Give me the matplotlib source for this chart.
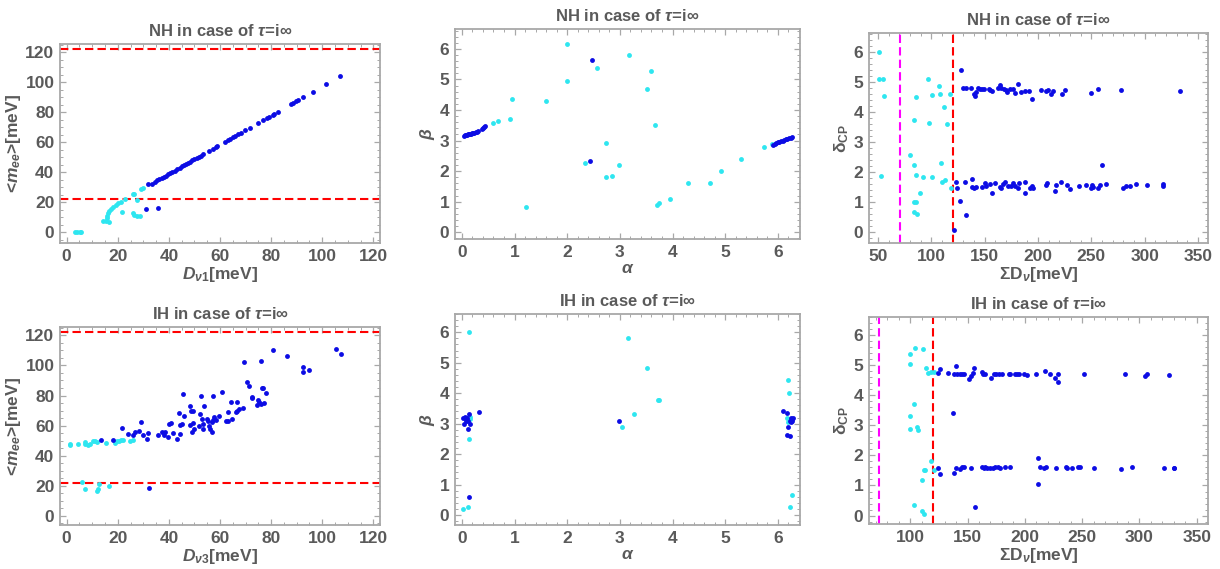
import matplotlib as mpl
mpl.use('Agg')
import matplotlib.pyplot as plt
from matplotlib.ticker import MultipleLocator

mpl.rcParams['font.family'] = 'Liberation Sans'
mpl.rcParams['font.weight'] = 'bold'
mpl.rcParams['mathtext.fontset'] = 'custom'
mpl.rcParams['mathtext.rm'] = 'Liberation Sans:bold'
mpl.rcParams['mathtext.it'] = 'Liberation Sans:bold:italic'
mpl.rcParams['mathtext.bf'] = 'Liberation Sans:bold'

textgray = '#5a5a5a'
framegray = '#a8a8a8'
blue = '#0c0ce4'
cyan = '#2ee6f0'

# ---------------- NH: <m_ee> vs D_v1 ----------------
nh_m_cyan_x = [3.3, 4.2, 5.2, 5.6, 14.3, 15.4, 15.9, 15.6, 16.2, 16.7, 17.3, 18.3, 19.3, 20.2,
               21.1, 21.5, 23.0, 25.8, 26.3, 25.8, 26.3, 27.4, 28.7, 27.6, 28.9, 30.0, 16.4]
nh_m_cyan_y = [0.0, 0.0, 0.0, 0.0, 7.7, 7.7, 9.5, 10.6, 12.8, 14.4, 15.5, 17.2, 18.3, 19.4,
               20.1, 13.3, 22.3, 25.4, 25.8, 12.8, 11.7, 11.0, 10.6, 21.7, 29.0, 29.8, 6.9]
nh_m_blue_x = [30.9, 35.9, 31.8, 33.2, 34.6, 35.4, 36.3, 37.2, 38.0, 38.8, 39.6, 40.5, 41.3,
               42.2, 43.0, 44.3, 45.1, 46.0, 46.8, 47.6, 48.4, 49.2, 50.0, 50.9, 51.7, 52.6,
               53.5, 55.8, 57.2, 58.3, 59.0, 62.0, 63.1, 64.0, 65.0, 66.0, 67.2, 68.1, 69.9,
               71.8, 74.9, 76.8, 78.2, 79.0, 80.6, 81.2, 82.7, 87.6, 88.6, 89.7, 90.6, 92.5,
               96.2, 101.4, 106.9]
nh_m_blue_y = [15.5, 16.1, 32.0, 32.5, 33.6, 34.6, 35.4, 36.2, 37.0, 37.8, 38.6, 39.4, 40.2,
               41.0, 41.9, 43.2, 44.0, 44.8, 45.6, 46.4, 47.2, 48.0, 48.7, 49.6, 50.4, 51.2,
               52.0, 54.4, 55.8, 56.7, 57.5, 60.4, 61.4, 62.3, 63.3, 64.2, 65.4, 66.3, 68.0,
               69.8, 72.9, 74.7, 76.0, 76.9, 78.5, 79.0, 80.5, 85.2, 86.2, 87.2, 88.1, 90.0,
               93.5, 98.6, 104.0]

# ---------------- NH: beta vs alpha ----------------
nh_ab_cyan_x = [0.60, 0.68, 0.92, 0.95, 1.21, 1.60, 1.99, 2.00, 2.34, 2.56, 2.73, 2.73, 2.86,
                2.98, 3.17, 3.52, 3.60, 3.67, 3.70, 3.75, 3.95, 4.29, 4.71, 4.92, 5.30, 5.74, 5.88]
nh_ab_cyan_y = [3.57, 3.65, 3.70, 4.35, 0.84, 4.28, 4.95, 6.15, 2.26, 5.37, 2.91, 1.80, 1.85,
                2.20, 5.80, 4.68, 5.26, 3.51, 0.89, 0.95, 1.09, 1.60, 1.60, 2.00, 2.41, 2.78, 2.88]
nh_ab_blue_x = [0.04, 0.06, 0.08, 0.10, 0.12, 0.14, 0.16, 0.18, 0.20, 0.22, 0.24, 0.26, 0.28,
                0.30, 0.38, 0.40, 0.42, 0.44, 2.48, 2.43, 5.91, 5.94, 5.97, 6.00, 6.03, 6.06,
                6.09, 6.12, 6.15, 6.18, 6.21, 6.24, 6.26]
nh_ab_blue_y = [3.16, 3.17, 3.18, 3.19, 3.20, 3.21, 3.22, 3.23, 3.24, 3.25, 3.26, 3.27, 3.28,
                3.30, 3.38, 3.41, 3.44, 3.48, 5.62, 2.33, 2.87, 2.90, 2.92, 2.94, 2.96, 2.98,
                3.00, 3.02, 3.04, 3.06, 3.08, 3.10, 3.12]

# ---------------- NH: delta_CP vs sum ----------------
nh_d_cyan_x = [51.0, 50.6, 54.7, 55.6, 53.1, 83.4, 80.3, 83.8, 85.3, 83.8, 86.0, 83.8, 86.9,
               85.9, 89.7, 92.5, 96.9, 97.5, 100.6, 100.6, 106.9, 107.8, 109.4, 110.3, 111.6,
               113.1, 115.0, 117.2, 118.8]
nh_d_cyan_y = [6.02, 5.10, 5.12, 4.54, 1.86, 3.74, 2.58, 2.24, 1.91, 1.01, 1.01, 0.69, 0.62,
               4.50, 1.30, 1.83, 5.12, 3.63, 1.83, 4.58, 4.86, 4.62, 2.32, 1.66, 4.17, 1.74,
               3.60, 4.61, 1.47]
nh_d_blue_x = [121.3, 128.1, 123.4, 124.4, 126.6, 131.3, 132.8, 259.7,
               129.7, 132.8, 136.9, 139.7, 140.6, 142.2, 143.8, 145.3, 147.8, 149.1, 154.0,
               155.3, 157.2, 162.5, 164.0, 165.6, 167.8, 169.7, 171.0, 173.5, 176.6, 178.2,
               181.3, 184.4, 188.1, 191.9, 194.4, 202.5, 207.8, 209.4, 211.9, 214.1, 222.8,
               225.0, 250.0, 256.2, 277.5, 333.4,
               138.4, 138.4, 140.0, 142.2, 147.5, 150.0, 151.6, 154.7, 157.2, 159.4, 164.1,
               165.6, 167.2, 168.8, 171.9, 175.0, 176.6, 178.1, 181.3, 182.2, 187.5, 188.1,
               192.8, 194.4, 195.3, 207.8, 208.8, 215.6, 217.2, 221.3, 226.9, 230.0, 238.8,
               244.7, 249.4, 250.3, 251.3, 256.6, 258.1, 263.4, 279.9, 282.4, 286.1, 292.2,
               302.2, 317.2, 317.2]
nh_d_blue_y = [0.06, 5.41, 1.69, 1.47, 1.04, 1.69, 0.56, 2.24,
               4.80, 4.80, 4.80, 4.61, 4.54, 4.68, 4.80, 4.77, 4.77, 4.79, 4.78,
               4.74, 4.69, 4.82, 4.91, 4.80, 4.77, 4.74, 4.68, 4.77, 4.76, 4.63,
               4.93, 4.68, 4.70, 4.69, 4.43, 4.74, 4.70, 4.74, 4.61, 4.72, 4.60,
               4.74, 4.63, 4.77, 4.74, 4.71,
               1.77, 1.52, 1.47, 1.50, 1.50, 1.63, 1.54, 1.61, 1.32, 1.63, 1.52,
               1.47, 1.60, 1.66, 1.54, 1.54, 1.63, 1.54, 1.47, 1.63, 1.32, 1.66,
               1.47, 1.54, 1.47, 1.59, 1.63, 1.36, 1.58, 1.66, 1.58, 1.43, 1.54,
               1.56, 1.49, 1.57, 1.51, 1.49, 1.57, 1.60, 1.49, 1.54, 1.54, 1.60,
               1.59, 1.60, 1.54]

# ---------------- IH: <m_ee> vs D_v3 ----------------
ih_m_cyan_x = [1.3, 1.3, 4.6, 7.2, 7.2, 8.5, 9.1, 10.2, 11.1, 11.7, 15.3, 18.9, 19.6, 20.5,
               21.1, 21.9, 24.8, 25.8, 5.9, 7.2, 11.7, 12.4, 12.8, 16.7]
ih_m_cyan_y = [47.9, 46.8, 47.9, 49.0, 47.5, 47.2, 47.9, 49.4, 49.4, 48.9, 48.5, 48.5, 49.4,
               49.9, 50.1, 50.1, 49.4, 50.1, 22.5, 17.6, 16.3, 17.6, 21.0, 19.9]
ih_m_blue_x = [13.3, 18.3, 21.8, 24.1, 25.8, 26.7, 28.4, 29.1, 29.7, 31.3, 32.0, 35.9, 37.4,
               38.1, 38.5, 39.5, 40.0, 40.7, 41.7, 43.3, 43.9, 44.3, 45.0, 45.4, 45.9, 44.2,
               48.3, 48.3, 48.9, 48.5, 49.3, 49.3, 49.8, 51.9, 52.2, 52.4, 52.8, 53.2, 53.5,
               53.7, 55.0, 55.4, 55.8, 56.0, 56.7, 57.0, 57.1, 57.4, 57.8, 58.5, 59.6, 60.6,
               62.2, 63.3, 63.0, 64.2, 64.8, 66.1, 66.8, 66.8, 67.6, 68.9, 69.5, 70.4, 71.3,
               72.4, 72.7, 74.3, 75.0, 75.4, 75.9, 76.0, 76.3, 77.0, 77.9, 77.2, 80.6, 86.1,
               92.3, 92.6, 95.0, 105.4, 107.2, 32.2]
ih_m_blue_y = [50.7, 50.7, 58.2, 54.5, 53.8, 55.6, 56.3, 62.2, 54.0, 51.2, 54.9, 54.0, 55.6,
               54.0, 55.6, 52.3, 61.1, 61.8, 54.9, 51.0, 68.4, 54.5, 61.0, 81.0, 66.6, 60.6,
               73.2, 60.6, 55.6, 69.9, 69.5, 61.5, 57.4, 60.0, 67.9, 79.4, 64.2, 61.2, 57.8,
               72.8, 64.4, 63.0, 60.0, 57.8, 55.6, 62.2, 79.9, 64.0, 65.5, 64.0, 66.6, 82.5,
               63.3, 68.8, 63.3, 75.9, 64.4, 69.3, 75.9, 70.0, 71.1, 71.5, 102.6, 88.7, 86.0,
               78.8, 78.4, 73.7, 77.0, 75.5, 74.5, 103.0, 84.7, 84.9, 81.6, 74.8, 110.3, 106.3,
               99.0, 95.7, 96.8, 110.7, 107.4, 18.1]

# ---------------- IH: beta vs alpha ----------------
ih_ab_cyan_x = [0.13, 0.13, 0.11, 0.02, 0.15, 0.16, 0.14, 3.16, 3.04, 3.26, 3.52, 3.72, 3.74,
                6.19, 6.22, 6.17, 6.20, 6.27, 6.23]
ih_ab_cyan_y = [6.00, 2.50, 0.27, 0.20, 3.23, 3.14, 3.19, 5.82, 2.90, 3.31, 4.82, 3.78, 3.76,
                4.43, 4.00, 3.18, 3.04, 0.66, 0.25]
ih_ab_blue_x = [0.03, 0.05, 0.08, 0.10, 0.11, 0.08, 0.12, 0.14, 0.15, 0.13, 0.33, 0.06, 2.99,
                6.10, 6.18, 6.17, 6.23, 6.20, 6.23, 6.25, 6.27, 6.29, 6.26, 6.24]
ih_ab_blue_y = [3.18, 2.98, 3.15, 3.20, 3.09, 3.07, 2.81, 3.31, 2.98, 0.58, 3.37, 3.23, 3.07,
                3.42, 3.34, 2.63, 2.60, 2.90, 3.10, 3.18, 3.14, 3.17, 3.08, 3.05]

# ---------------- IH: delta_CP vs sum ----------------
ih_d_cyan_x = [100.0, 103.8, 99.4, 110.8, 114.0, 115.4, 118.3, 120.9, 99.4, 100.0, 102.9,
               105.8, 106.4, 110.2, 111.6, 113.1, 118.3, 120.9, 102.9, 110.2, 111.6]
ih_d_cyan_y = [5.37, 5.58, 5.04, 5.54, 4.89, 4.75, 4.76, 4.78, 3.31, 2.87, 3.70, 2.96, 2.85,
               1.18, 1.52, 1.52, 1.83, 1.52, 0.35, 0.15, 0.06]
ih_d_blue_x = [123.8, 126.2, 132.8, 137.8, 139.8, 140.7, 143.0, 145.0, 146.5, 150.9, 152.9,
               154.4, 155.8, 162.5, 163.1, 165.4, 170.3, 172.7, 175.0, 177.0, 180.0, 185.8,
               187.2, 191.6, 193.0, 195.3, 199.4, 201.7, 209.9, 217.2, 221.5, 226.5, 228.5,
               228.8, 251.7, 287.5, 305.0, 306.4, 326.2,
               136.9, 137.8, 156.1, 211.3, 211.3, 126.2,
               123.8, 139.8, 143.6, 145.0, 146.5, 152.9, 162.5, 164.0, 165.4, 166.9, 169.8,
               172.1, 174.1, 176.2, 178.5, 182.8, 186.6, 213.4, 216.9, 218.6, 227.0, 236.0,
               237.2, 241.0, 246.8, 247.7, 260.5, 284.0, 293.9, 321.8, 329.7, 330.5]
ih_d_blue_y = [4.73, 4.86, 4.75, 4.69, 4.97, 4.70, 4.71, 4.70, 4.70, 4.53, 4.65,
               4.73, 4.89, 4.78, 4.69, 4.69, 4.56, 4.70, 4.71, 4.71, 4.70, 4.69,
               4.69, 4.71, 4.69, 4.69, 4.69, 4.67, 4.69, 4.80, 4.69, 4.58, 4.69,
               4.45, 4.69, 4.69, 4.65, 4.69, 4.67,
               3.40, 1.41, 0.28, 1.90, 1.04, 1.38,
               1.57, 1.57, 1.55, 1.60, 1.60, 1.57, 1.60, 1.57, 1.60, 1.57, 1.57,
               1.57, 1.60, 1.60, 1.57, 1.60, 1.60, 1.60, 1.57, 1.60, 1.57, 1.60,
               1.57, 1.57, 1.60, 1.62, 1.57, 1.54, 1.62, 1.57, 1.57, 1.57]

title_nh = 'NH in case of $\\tau$=i\u221e'
title_ih = 'IH in case of $\\tau$=i\u221e'
mee_lines = [22, 122]
sum_lines = [71, 120]


def style_ax(ax, xmajor, xminor, ymajor, yminor):
    for s in ax.spines.values():
        s.set_color(framegray)
        s.set_linewidth(1.3)
    ax.xaxis.set_major_locator(MultipleLocator(xmajor))
    ax.xaxis.set_minor_locator(MultipleLocator(xminor))
    ax.yaxis.set_major_locator(MultipleLocator(ymajor))
    ax.yaxis.set_minor_locator(MultipleLocator(yminor))
    ax.tick_params(which='both', direction='in', top=True, right=True, color=framegray,
                   labelcolor=textgray, labelsize=12.5)
    ax.tick_params(which='major', length=4, width=0.9, pad=4)
    ax.tick_params(which='minor', length=2, width=0.7)
    for lab in ax.get_xticklabels() + ax.get_yticklabels():
        lab.set_fontweight('bold')


def dots(ax, x, y, c):
    ax.plot(x, y, 'o', color=c, ms=3.5, mew=0, zorder=3)


fig = plt.figure(figsize=(12.2, 5.69), dpi=100)
W, H = 1220.0, 569.0


def box(l, r, t, b):
    return [l / W, 1 - b / H, (r - l) / W, (b - t) / H]


ax1 = fig.add_axes(box(60, 380, 44, 243))
ax2 = fig.add_axes(box(455, 800, 29, 239))
ax3 = fig.add_axes(box(869, 1208, 33, 243))
ax4 = fig.add_axes(box(60, 380, 327, 525))
ax5 = fig.add_axes(box(455, 800, 314, 525))
ax6 = fig.add_axes(box(869, 1208, 317, 524))

# panel 1
dots(ax1, nh_m_cyan_x, nh_m_cyan_y, cyan)
dots(ax1, nh_m_blue_x, nh_m_blue_y, blue)
for v in mee_lines:
    ax1.axhline(v, color='red', ls=(0, (4, 2)), lw=1.5, zorder=2)
ax1.set_xlim(-2.6, 122.6)
ax1.set_ylim(-7.1, 125.5)
ax1.set_xlabel('$D_{\\nu 1}$[meV]')
ax1.set_ylabel('<$m_{ee}$>[meV]')
style_ax(ax1, 20, 5, 20, 5)

# panel 2
dots(ax2, nh_ab_cyan_x, nh_ab_cyan_y, cyan)
dots(ax2, nh_ab_blue_x, nh_ab_blue_y, blue)
ax2.set_xlim(-0.13, 6.42)
ax2.set_ylim(-0.22, 6.65)
ax2.set_xlabel('$\\alpha$')
ax2.set_ylabel('$\\beta$')
style_ax(ax2, 1, 0.2, 1, 0.2)

# panel 3
dots(ax3, nh_d_cyan_x, nh_d_cyan_y, cyan)
dots(ax3, nh_d_blue_x, nh_d_blue_y, blue)
ax3.axvline(sum_lines[0], color='magenta', ls=(0, (4, 2)), lw=1.5, zorder=2)
ax3.axvline(sum_lines[1], color='red', ls=(0, (4, 2)), lw=1.5, zorder=2)
ax3.set_xlim(41.5, 359.3)
ax3.set_ylim(-0.36, 6.64)
ax3.set_xlabel('\u03a3D$_\\nu$[meV]')
ax3.set_ylabel('\u03b4$_{\\rm CP}$')
style_ax(ax3, 50, 10, 1, 0.2)

# panel 4
dots(ax4, ih_m_cyan_x, ih_m_cyan_y, cyan)
dots(ax4, ih_m_blue_x, ih_m_blue_y, blue)
for v in mee_lines:
    ax4.axhline(v, color='red', ls=(0, (4, 2)), lw=1.5, zorder=2)
ax4.set_xlim(-2.6, 122.6)
ax4.set_ylim(-6.2, 125.6)
ax4.set_xlabel('$D_{\\nu 3}$[meV]')
ax4.set_ylabel('<$m_{ee}$>[meV]')
style_ax(ax4, 20, 5, 20, 5)

# panel 5
dots(ax5, ih_ab_cyan_x, ih_ab_cyan_y, cyan)
dots(ax5, ih_ab_blue_x, ih_ab_blue_y, blue)
ax5.set_xlim(-0.13, 6.42)
ax5.set_ylim(-0.33, 6.6)
ax5.set_xlabel('$\\alpha$')
ax5.set_ylabel('$\\beta$')
style_ax(ax5, 1, 0.2, 1, 0.2)

# panel 6
dots(ax6, ih_d_cyan_x, ih_d_cyan_y, cyan)
dots(ax6, ih_d_blue_x, ih_d_blue_y, blue)
ax6.axvline(sum_lines[0] + 2, color='magenta', ls=(0, (4, 2)), lw=1.5, zorder=2)
ax6.axvline(sum_lines[1], color='red', ls=(0, (4, 2)), lw=1.5, zorder=2)
ax6.set_xlim(64, 359.8)
ax6.set_ylim(-0.28, 6.6)
ax6.set_xlabel('\u03a3D$_\\nu$[meV]')
ax6.set_ylabel('\u03b4$_{\\rm CP}$')
style_ax(ax6, 50, 10, 1, 0.2)

for ax, t in zip([ax1, ax2, ax3, ax4, ax5, ax6],
                 [title_nh] * 3 + [title_ih] * 3):
    ax.set_title(t, color=textgray, fontsize=12, fontweight='bold', pad=6)
    for lab in (ax.xaxis.label, ax.yaxis.label):
        lab.set_color(textgray)
        lab.set_fontsize(12.5)
        lab.set_fontweight('bold')
    ax.xaxis.labelpad = 1
    ax.yaxis.labelpad = 2

fig.savefig('out.png', dpi=100)
